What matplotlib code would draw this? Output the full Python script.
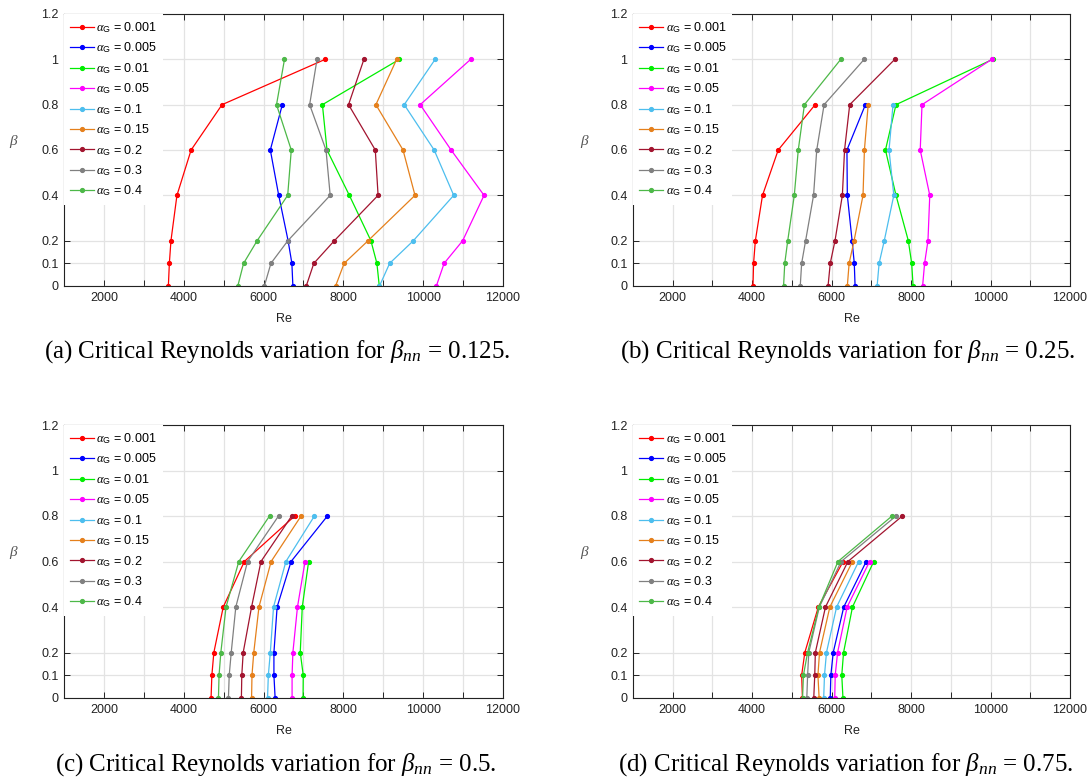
import numpy as np
import matplotlib
matplotlib.use("Agg")
import matplotlib.pyplot as plt
from matplotlib.ticker import FixedLocator

plt.rcParams['font.family'] = ['Liberation Sans', 'DejaVu Sans']
plt.rcParams['mathtext.fontset'] = 'custom'
plt.rcParams['mathtext.it'] = 'Liberation Serif:italic'
plt.rcParams['mathtext.rm'] = 'Liberation Sans'
plt.rcParams['mathtext.sf'] = 'Liberation Sans'

nan = np.nan
beta = [0, 0.1, 0.2, 0.4, 0.6, 0.8, 1.0]
alphas = ['0.001', '0.005', '0.01', '0.05', '0.1', '0.15', '0.2', '0.3', '0.4']
colors = ['#FF0000', '#0000FF', '#00EE00', '#FF00FF', '#4DBEEE', '#E5801C',
          '#A2142F', '#808080', '#4DB848']

# Critical Re per alpha_G (rows) at beta = 0, 0.1, 0.2, 0.4, 0.6, 0.8, 1
re_a = [
    [3615, 3640, 3680, 3830, 4185, 4960, 7545],
    [6735, 6710, 6615, 6380, 6170, 6470, nan],
    [8900, 8840, 8690, 8150, 7590, 7475, 9405],
    [10330, 10525, 10990, 11525, 10700, 9925, 11190],
    [8905, 9160, 9755, 10765, 10275, 9525, 10300],
    [7805, 8020, 8620, 9795, 9495, 8815, 9335],
    [7070, 7260, 7775, 8870, 8800, 8130, 8515],
    [6020, 6185, 6610, 7670, 7565, 7155, 7340],
    [5355, 5500, 5840, 6605, 6695, 6325, 6525],
]
re_b = [
    [4020, 4035, 4080, 4260, 4655, 5585, nan],
    [6590, 6570, 6515, 6395, 6385, 6850, nan],
    [8050, 8015, 7930, 7620, 7355, 7620, 10055],
    [8290, 8340, 8425, 8470, 8230, 8275, 10030],
    [7145, 7195, 7325, 7565, 7445, 7545, nan],
    [6395, 6440, 6565, 6790, 6825, 6920, nan],
    [5910, 5965, 6085, 6270, 6325, 6455, 7590],
    [5210, 5245, 5345, 5545, 5625, 5810, 6820],
    [4790, 4820, 4895, 5060, 5160, 5315, 6230],
]
re_c = [
    [4685, 4705, 4755, 4990, 5520, 6780, nan],
    [6290, 6260, 6260, 6340, 6690, 7600, nan],
    [6990, 6995, 6920, 6970, 7130, nan, nan],
    [6715, 6715, 6735, 6850, 7040, nan, nan],
    [6100, 6120, 6170, 6250, 6560, 7275, nan],
    [5700, 5710, 5755, 5885, 6190, 6940, nan],
    [5445, 5455, 5490, 5700, 5935, 6705, nan],
    [5120, 5140, 5190, 5305, 5600, 6375, nan],
    [4870, 4885, 4930, 5060, 5380, 6150, nan],
]
re_d = [
    [5265, 5245, 5325, 5665, 6290, nan, nan],
    [5965, 5980, 6040, 6305, 6870, nan, nan],
    [6285, 6255, 6300, 6525, 7060, nan, nan],
    [6078, 6090, 6150, 6390, 6955, nan, nan],
    [5800, 5820, 5870, 6125, 6680, nan, nan],
    [5685, 5655, 5695, 5955, 6525, nan, nan],
    [5550, 5575, 5590, 5845, 6410, 7780, nan],
    [5375, 5395, 5425, 5690, 6240, 7620, nan],
    [5268, 5290, 5395, 5680, 6160, 7520, nan],
]
captions = [r'(a) Critical Reynolds variation for $\beta_{nn}$ = 0.125.',
            r'(b) Critical Reynolds variation for $\beta_{nn}$ = 0.25.',
            r'(c) Critical Reynolds variation for $\beta_{nn}$ = 0.5.',
            r'(d) Critical Reynolds variation for $\beta_{nn}$ = 0.75.']
yticks = [0, 0.1, 0.2, 0.4, 0.6, 0.8, 1.0, 1.2]
yticklabels = ['0', '0.1', '0.2', '0.4', '0.6', '0.8', '1', '1.2']

W, H = 1087, 783
fig = plt.figure(figsize=(W / 100, H / 100), dpi=100)

boxes = [(64, 14, 503, 286), (633, 14, 1070, 286),
         (64, 425, 503, 698), (633, 425, 1070, 698)]
cap_pos = [(277, 352), (848, 352), (276, 765), (846, 765)]
ylab_x = [14, 585, 14, 585]

for i, (data, box) in enumerate(zip([re_a, re_b, re_c, re_d], boxes)):
    x0, y0, x1, y1 = box
    ax = fig.add_axes([x0 / W, 1 - y1 / H, (x1 - x0) / W, (y1 - y0) / H])
    for row, col, a in zip(data, colors, alphas):
        ax.plot(row, beta, '-', marker='.', color=col, lw=0.9, ms=5.5,
                label=r'$\alpha_{\mathrm{G}}$ = ' + a)
    ax.set_xlim(1000, 12000)
    ax.set_ylim(0, 1.2)
    ax.xaxis.set_major_locator(FixedLocator([2000, 4000, 6000, 8000, 10000, 12000]))
    ax.xaxis.set_minor_locator(FixedLocator([3000, 5000, 7000, 9000, 11000]))
    ax.set_yticks(yticks)
    ax.set_yticklabels(yticklabels)
    ax.grid(True, which='both', color='#E3E3E3', lw=0.9)
    ax.set_axisbelow(True)
    ax.tick_params(which='both', direction='in', top=True, right=True,
                   length=4, width=0.7, labelsize=9, colors='#222222', pad=4)
    for s in ax.spines.values():
        s.set_linewidth(0.8)
        s.set_color('#222222')
    ax.set_xlabel('Re', fontsize=9, labelpad=7, color='#222222')
    ax.set_ylabel(r'$\beta$', fontsize=11, rotation=0, color='#555555')
    ax.yaxis.set_label_coords((ylab_x[i] - x0) / (x1 - x0), 1 - 136 / (y1 - y0))
    leg = ax.legend(loc='upper left', borderaxespad=0, fontsize=9, frameon=True,
                    fancybox=False, framealpha=1, edgecolor='none',
                    handlelength=1.9, handletextpad=0.2, labelspacing=0.45,
                    borderpad=0.5)
    leg.get_frame().set_facecolor('white')
    cx, cy = cap_pos[i]
    fig.text(cx / W, 1 - cy / H, captions[i], ha='center', va='center',
             fontsize=18, family='Liberation Serif')

fig.savefig('out.png', dpi=100)
